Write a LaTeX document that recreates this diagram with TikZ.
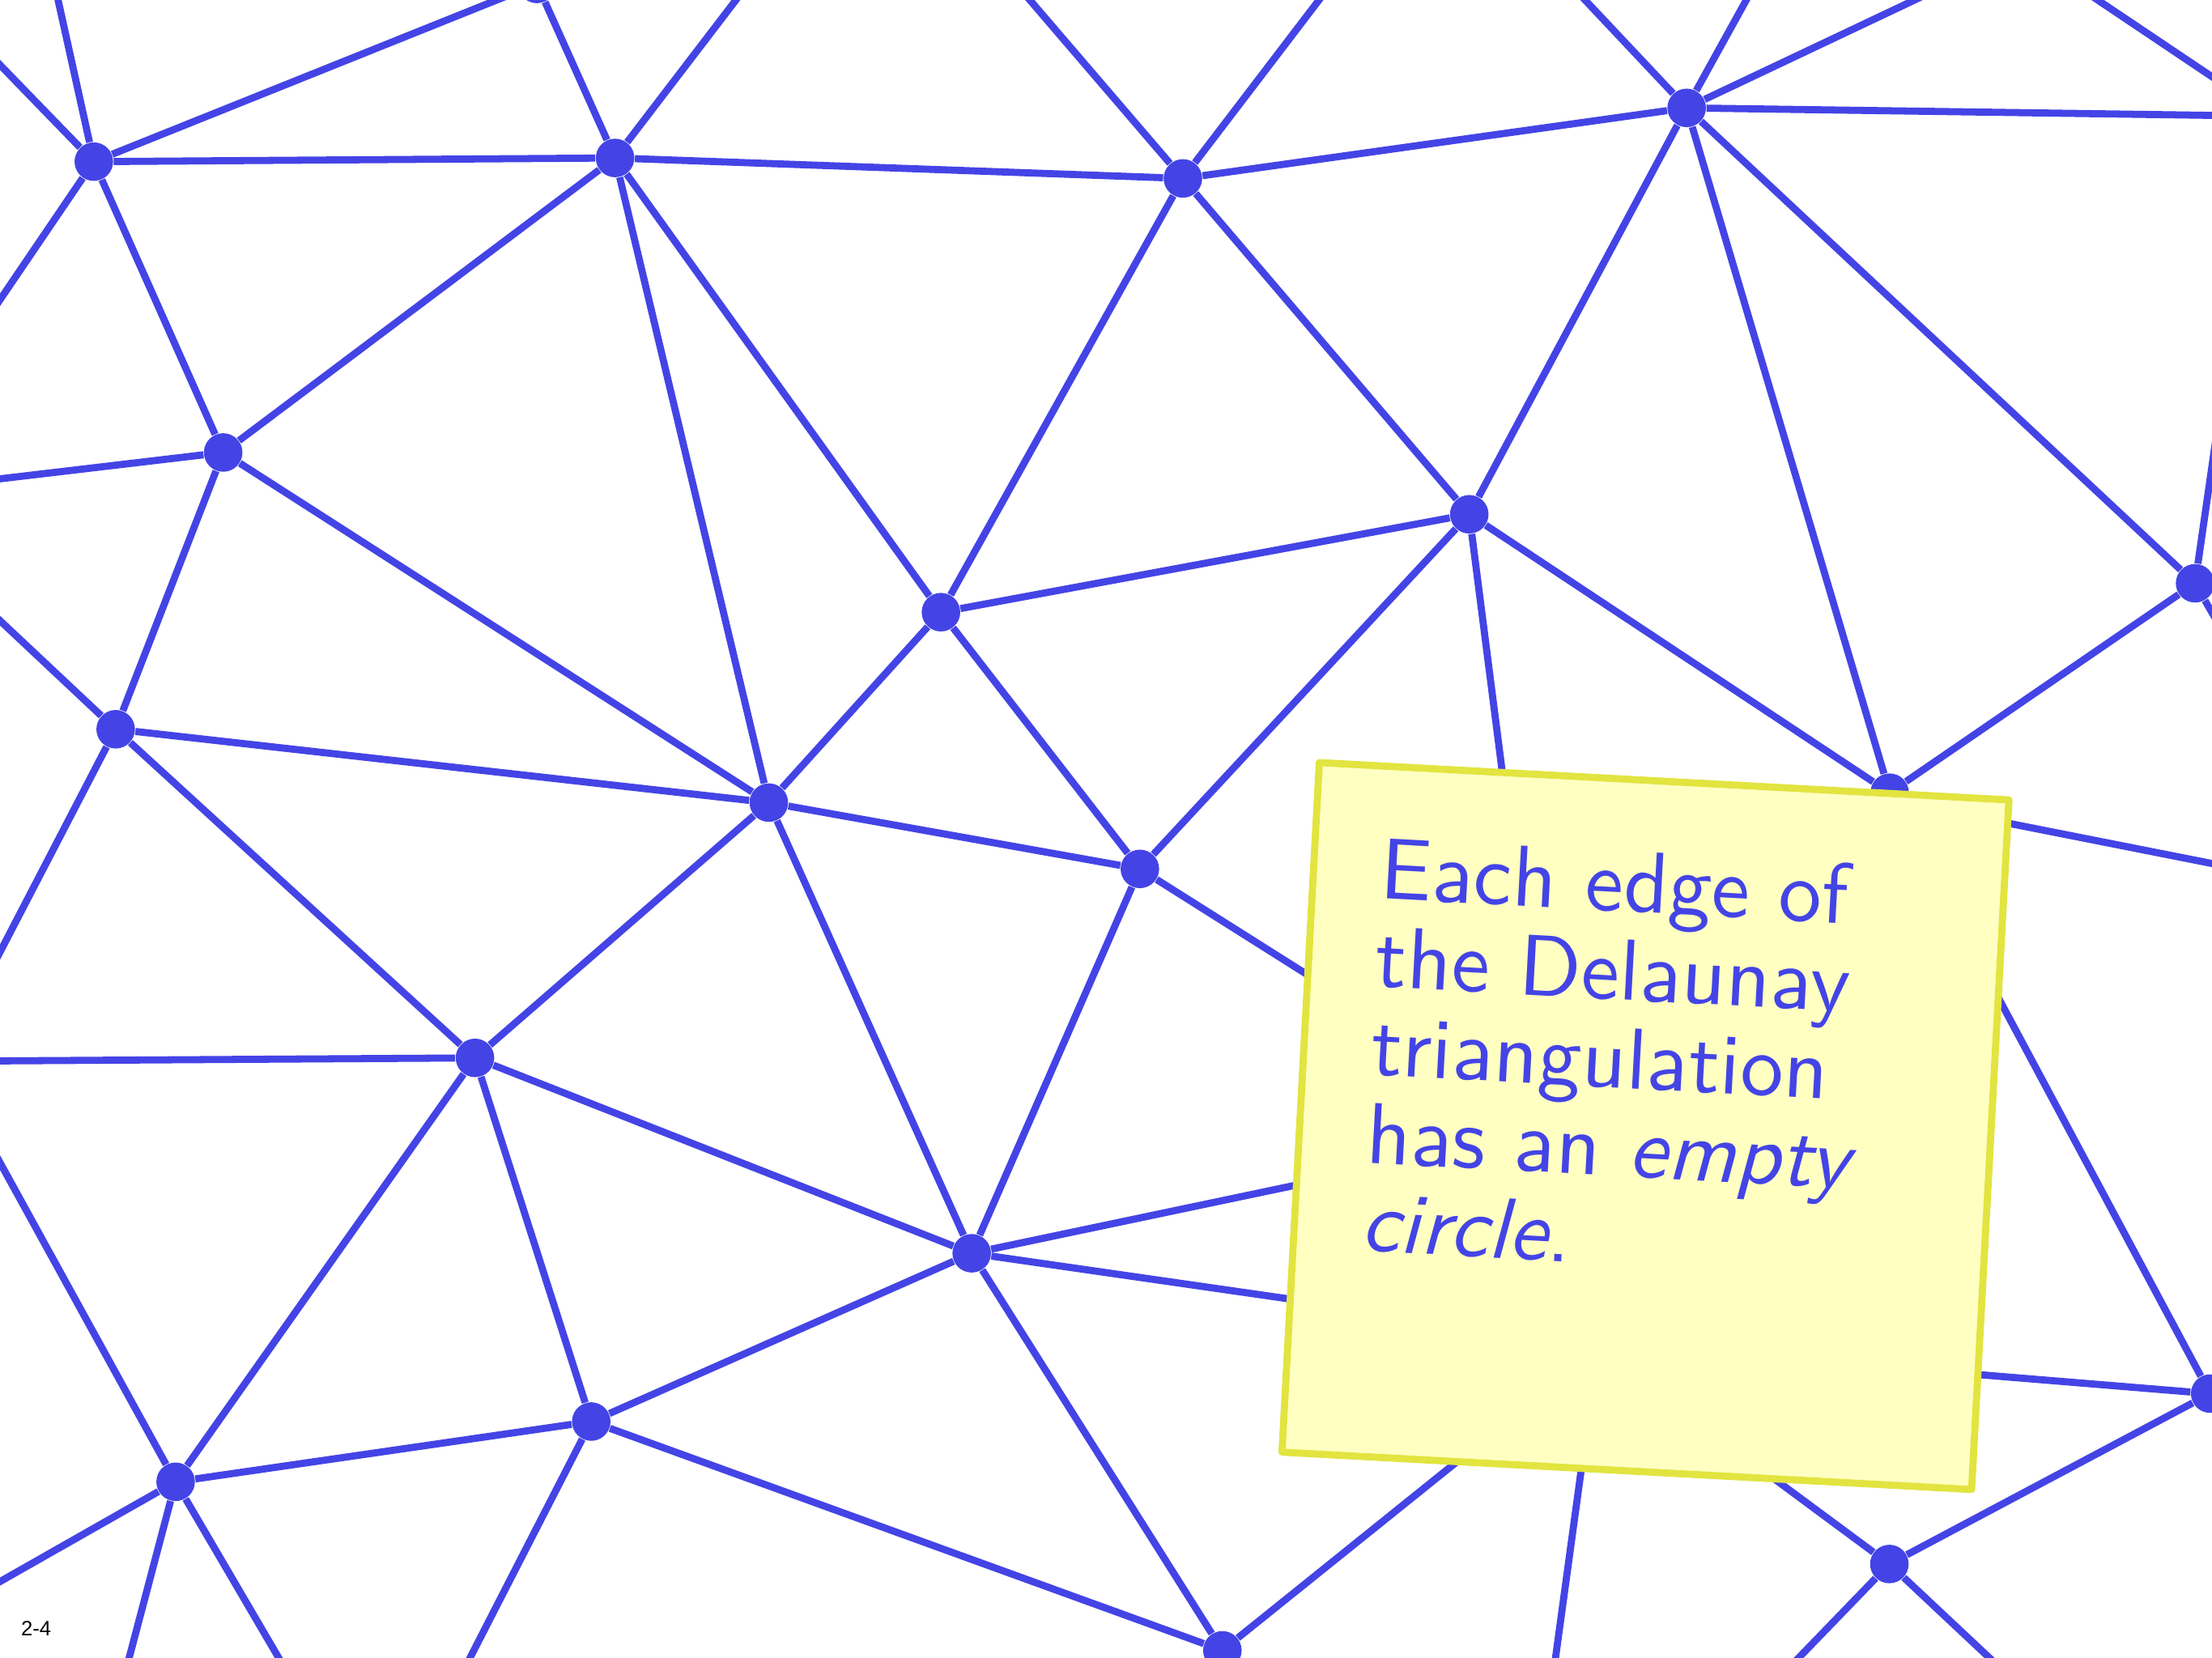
\documentclass[tikz,border=0pt]{standalone}
\usepackage{fontspec}
\newfontfamily\notefont{lmsans10-regular.otf}[ItalicFont=lmsans10-oblique.otf]
\newfontfamily\labelfont{Liberation Sans}
\definecolor{dblue}{RGB}{68,68,230}
\definecolor{nfill}{RGB}{255,255,194}
\definecolor{nborder}{RGB}{226,228,64}
\begin{document}
\begin{tikzpicture}[x=0.017423cm, y=-0.017423cm,
  edge/.style={draw=dblue, line width=2.5pt, line join=round},
  dot/.style={circle, fill=dblue, draw=none, inner sep=0pt, minimum size=0.476cm},
  notebox/.style={fill=nfill, draw=nborder, line width=2.5pt, line join=round},
  notetext/.style={anchor=north west, inner sep=0pt, align=left, text=dblue,
    font=\notefont\fontsize{30.4pt}{31pt}\selectfont, transform shape},
  pagelabel/.style={anchor=base west, inner sep=0pt, text=black,
    font=\labelfont\fontsize{7.3pt}{8.5pt}\selectfont}]
\useasboundingbox (0,0) rectangle (1568,1175);
\clip (0,0) rectangle (1568,1175);
% vertices
\node[dot] (A) at (66.5,114.6) {};
\node[dot] (B) at (436,112) {};
\node[dot] (T1) at (380.6,-11.4) {};
\node[dot] (C) at (838.5,126.5) {};
\node[dot] (D) at (1195.6,76.5) {};
\node[dot] (E) at (158.2,320.8) {};
\node[dot] (F) at (667,434) {};
\node[dot] (G) at (1041.5,364.6) {};
\node[dot] (H) at (1556,413.5) {};
\node[dot] (I) at (82,517) {};
\node[dot] (J) at (545,569) {};
\node[dot] (K) at (808,616) {};
\node[dot] (L) at (1339.5,562) {};
\node[dot] (M) at (336.7,750) {};
\node[dot] (N) at (688.8,888.5) {};
\node[dot] (O) at (419.1,1007.8) {};
\node[dot] (P) at (124.5,1050.5) {};
\node[dot] (Q) at (866.5,1170) {};
\node[dot] (R) at (1339.3,1108.8) {};
\node[dot] (S) at (1566.7,988) {};
% hidden ends under the note
\coordinate (hG) at (1068.5,575.5);
\coordinate (hK) at (960,712);
\coordinate (hN1) at (960,831.5);
\coordinate (hN2) at (960,927.5);
\coordinate (hQ) at (1060,1014.4);
\coordinate (hV) at (1126.6,1000);
\coordinate (hR) at (1220.4,1020.8);
\coordinate (hS1) at (1354.8,970.6);
\coordinate (hS2) at (1388,654);
\coordinate (hL) at (1380,575);
% ends outside the frame
\coordinate (X1) at (35.6,-25.2);
\coordinate (X2) at (-20,25.4);
\coordinate (X3) at (-20,242);
\coordinate (X4) at (540.8,-25);
\coordinate (X5) at (708.3,-25.3);
\coordinate (X6) at (954.3,-25.3);
\coordinate (X7) at (1101.9,-23);
\coordinate (X8) at (1250.6,-23);
\coordinate (X9) at (1405.8,-23);
\coordinate (Y1) at (1450,-24.8);
\coordinate (Y2) at (1600,75.9);
\coordinate (X10) at (1610,82.4);
\coordinate (X11) at (-30,343);
\coordinate (X12) at (1571.6,305.3);
\coordinate (X13) at (1589.4,471.5);
\coordinate (X14) at (-24.6,416.9);
\coordinate (X15) at (-24.6,722.4);
\coordinate (X16) at (1610,620.5);
\coordinate (X17) at (-30,752.3);
\coordinate (X18) at (315.9,1209);
\coordinate (X19) at (-18.7,790.2);
\coordinate (X20) at (-24.9,1135.4);
\coordinate (X21) at (84.9,1200.5);
\coordinate (X22) at (212.3,1200.5);
\coordinate (X24) at (1097.9,1210);
\coordinate (X25) at (1255.7,1195.3);
\coordinate (X26) at (1431.5,1195.3);
% edges
\draw[edge] (A) -- (X1);
\draw[edge] (A) -- (X2);
\draw[edge] (A) -- (X3);
\draw[edge] (A) -- (T1);
\draw[edge] (A) -- (B);
\draw[edge] (A) -- (E);
\draw[edge] (B) -- (T1);
\draw[edge] (B) -- (X4);
\draw[edge] (B) -- (C);
\draw[edge] (B) -- (E);
\draw[edge] (B) -- (J);
\draw[edge] (B) -- (F);
\draw[edge] (C) -- (X5);
\draw[edge] (C) -- (X6);
\draw[edge] (C) -- (D);
\draw[edge] (C) -- (F);
\draw[edge] (C) -- (G);
\draw[edge] (D) -- (X7);
\draw[edge] (D) -- (X8);
\draw[edge] (D) -- (X9);
\draw[edge] (Y1) -- (Y2);
\draw[edge] (D) -- (X10);
\draw[edge] (D) -- (G);
\draw[edge] (D) -- (L);
\draw[edge] (D) -- (H);
\draw[edge] (E) -- (X11);
\draw[edge] (E) -- (I);
\draw[edge] (E) -- (J);
\draw[edge] (F) -- (G);
\draw[edge] (F) -- (J);
\draw[edge] (F) -- (K);
\draw[edge] (G) -- (K);
\draw[edge] (G) -- (L);
\draw[edge] (G) -- (hG);
\draw[edge] (H) -- (X12);
\draw[edge] (H) -- (X13);
\draw[edge] (H) -- (L);
\draw[edge] (I) -- (X14);
\draw[edge] (I) -- (J);
\draw[edge] (I) -- (M);
\draw[edge] (I) -- (X15);
\draw[edge] (J) -- (K);
\draw[edge] (J) -- (M);
\draw[edge] (J) -- (N);
\draw[edge] (K) -- (N);
\draw[edge] (K) -- (hK);
\draw[edge] (hL) -- (X16);
\draw[edge] (M) -- (X17);
\draw[edge] (M) -- (N);
\draw[edge] (M) -- (O);
\draw[edge] (M) -- (P);
\draw[edge] (N) -- (hN1);
\draw[edge] (N) -- (hN2);
\draw[edge] (N) -- (O);
\draw[edge] (N) -- (Q);
\draw[edge] (O) -- (P);
\draw[edge] (O) -- (Q);
\draw[edge] (O) -- (X18);
\draw[edge] (P) -- (X19);
\draw[edge] (P) -- (X20);
\draw[edge] (P) -- (X21);
\draw[edge] (P) -- (X22);
\draw[edge] (Q) -- (hQ);
\draw[edge] (hV) -- (X24);
\draw[edge] (R) -- (hR);
\draw[edge] (R) -- (S);
\draw[edge] (R) -- (X25);
\draw[edge] (R) -- (X26);
\draw[edge] (S) -- (hS1);
\draw[edge] (S) -- (hS2);
% note
\begin{scope}[shift={(1166.4,798.3)}, rotate=-3.1]
  \draw[notebox] (-244.8,-244.8) rectangle (244.8,244.8);
  \node[notetext] (txt) at (-197.4,-194.6) {Each edge of\\the Delaunay\\triangulation\\has an \emph{empty}\\\emph{circle}.};
\end{scope}
\node[pagelabel] (lab) at (14.6,1159.8) {2-4};
\end{tikzpicture}
\end{document}
